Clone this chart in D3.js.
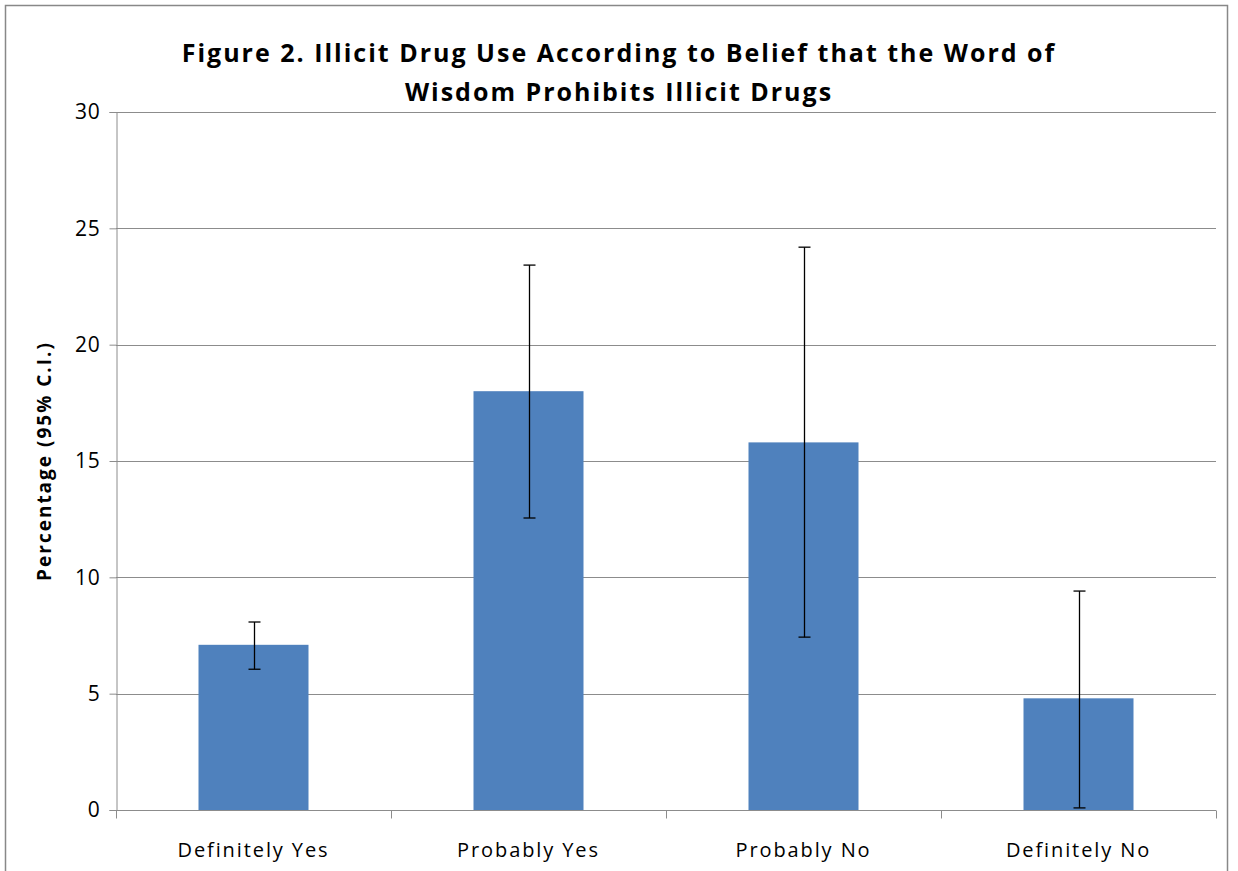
<!DOCTYPE html>
<html><head><meta charset="utf-8">
<script src="https://cdn.jsdelivr.net/npm/d3@7"></script>
<style>body{margin:0;background:#fff}svg{display:block}</style>
</head><body>
<svg id="c" width="1238" height="871"></svg>
<script>
const categories = ["Definitely Yes", "Probably Yes", "Probably No", "Definitely No"];
const values = [7.1, 18.0, 15.8, 4.8];
const ciLow = [6.05, 12.55, 7.43, 0.09];
const ciHigh = [8.08, 23.42, 24.19, 9.41];
const yTicks = [0, 5, 10, 15, 20, 25, 30];
const titleLines = ["Figure 2. Illicit Drug Use According to Belief that the Word of", "Wisdom Prohibits Illicit Drugs"];
const yLabel = "Percentage (95% C.I.)";

const svg = d3.select("#c");
const font = "'Open Sans', 'Liberation Sans', sans-serif";
const L = 116, R = 1216, T = 112, B = 810;

svg.append("rect").attr("x", 5.5).attr("y", 5.5).attr("width", 1222).attr("height", 880)
  .attr("fill", "#fff").attr("stroke", "#888").attr("stroke-width", 1.5);

const x = d3.scaleBand().domain(categories).range([L, R]).paddingInner(0.6).paddingOuter(0.3);
const xb = d3.scaleBand().domain(categories).range([L, R]);
const y = d3.scaleLinear().domain([0, 30]).range([B, T]);

// grid
svg.append("g").selectAll("line").data(yTicks.filter(d => d > 0)).join("line")
  .attr("x1", L).attr("x2", R).attr("y1", d => Math.round(y(d)) + 0.5).attr("y2", d => Math.round(y(d)) + 0.5)
  .attr("stroke", "#8c8c8c").attr("stroke-width", 1);

// bars
svg.append("g").selectAll("rect").data(values).join("rect")
  .attr("x", (d, i) => x(categories[i])).attr("width", x.bandwidth())
  .attr("y", d => y(d)).attr("height", d => B - y(d)).attr("fill", "#4F81BD");

// y axis
const ya = d3.axisLeft(y).tickValues(yTicks).tickSize(7).tickPadding(9).tickFormat(d3.format("d"));
const gy = svg.append("g").attr("transform", `translate(${L + 0.5},0)`).call(ya);
gy.select(".domain").attr("stroke", "#8c8c8c");
gy.selectAll(".tick line").attr("stroke", "#8c8c8c");
gy.selectAll(".tick text").attr("font-family", font).attr("font-size", 21).attr("letter-spacing", 0.8).attr("fill", "#000");

// x axis
const gx = svg.append("g").attr("transform", `translate(0,${B + 0.5})`);
gx.append("line").attr("x1", L).attr("x2", R).attr("stroke", "#8c8c8c");
const bounds = categories.map(c => xb(c)).concat([R]);
gx.selectAll(".tk").data(bounds).join("line").attr("class", "tk")
  .attr("x1", d => Math.round(d) + 0.5).attr("x2", d => Math.round(d) + 0.5).attr("y1", 0).attr("y2", 8)
  .attr("stroke", "#8c8c8c");
gx.selectAll("text").data(categories).join("text")
  .attr("x", d => xb(d) + xb.bandwidth() / 2).attr("y", 46)
  .attr("text-anchor", "middle").attr("font-family", font).attr("font-size", 20)
  .attr("letter-spacing", 1.9).text(d => d);

// error bars
const eb = svg.append("g").attr("stroke", "#000").attr("stroke-width", 1.3);
categories.forEach((c, i) => {
  const cx = Math.round(x(c) + x.bandwidth() / 2) + 0.5;
  eb.append("line").attr("x1", cx).attr("x2", cx).attr("y1", y(ciLow[i])).attr("y2", y(ciHigh[i]));
  [ciLow[i], ciHigh[i]].forEach(v => {
    eb.append("line").attr("x1", cx - 6).attr("x2", cx + 6).attr("y1", y(v)).attr("y2", y(v));
  });
});

// title
svg.append("g").selectAll("text").data(titleLines).join("text")
  .attr("x", 619).attr("y", (d, i) => 62 + i * 39).attr("text-anchor", "middle")
  .attr("font-family", font).attr("font-weight", "bold").attr("font-size", 25)
  .attr("letter-spacing", 2).text(d => d);

// y label
svg.append("text").attr("transform", `translate(51,${(T + B) / 2 + 0}) rotate(-90)`)
  .attr("text-anchor", "middle").attr("font-family", font).attr("font-weight", "bold")
  .attr("font-size", 19).attr("letter-spacing", 2).text(yLabel);
</script>
</body></html>
